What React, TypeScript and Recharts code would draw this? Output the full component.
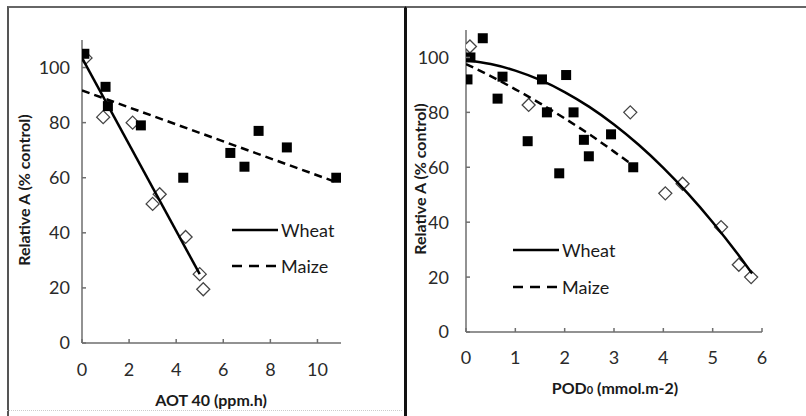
import React from 'react'
import { ScatterChart, Scatter, XAxis, YAxis } from 'recharts'

// Left panel: photosynthesis vs AOT40
const aotWheatX = [0.15, 0.9, 2.15, 3.0, 3.3, 4.4, 5.0, 5.15]
const aotWheatY = [103.5, 82, 80, 50.5, 54, 38.5, 25, 19.5]
const aotMaizeX = [0.1, 1.0, 1.1, 2.5, 4.3, 6.3, 6.9, 7.5, 8.7, 10.8]
const aotMaizeY = [105, 93, 86, 79, 60, 69, 64, 77, 71, 60]
const aotWheatFitX = [0, 5]
const aotWheatFitY = [103.5, 25]
const aotMaizeFitX = [0, 10.7]
const aotMaizeFitY = [91.7, 58.7]

// Right panel: photosynthesis vs POD0
const podWheatX = [0.08, 1.27, 3.33, 4.04, 4.39, 5.17, 5.53, 5.78]
const podWheatY = [104, 82.7, 80, 50.5, 54, 38.2, 24.5, 20]
const podMaizeX = [0.03, 0.09, 0.34, 0.64, 0.74, 1.25, 1.54, 1.64, 1.89, 2.03, 2.18, 2.39, 2.49, 2.94, 3.39]
const podMaizeY = [92, 100, 107, 85, 93, 69.5, 92, 80, 57.8, 93.6, 80, 70, 64, 72, 60]
const podWheatFitX = [0, 0.5, 1, 1.5, 2, 2.5, 3, 3.5, 4, 4.5, 5, 5.5, 5.8]
const podWheatFitY = [99, 97.6, 95.2, 91.8, 87.4, 82, 75.6, 68.2, 59.8, 50.4, 40, 28.6, 21.3]
const podMaizeFitX = [0, 0.5, 1, 1.5, 2, 2.5, 3, 3.4]
const podMaizeFitY = [97.6, 93.2, 88.4, 83.3, 77.8, 72, 65.7, 60.5]

const yTicks = [0, 20, 40, 60, 80, 100]
const aotTicks = [0, 2, 4, 6, 8, 10]
const podTicks = [0, 1, 2, 3, 4, 5, 6]

const zip = (xs: number[], ys: number[]) => xs.map((x, i) => ({ x, y: ys[i] }))

const FONT = 'Lato, "Open Sans", sans-serif'
const AXIS = '#6e6e6e'
const axisLine = { stroke: AXIS, strokeWidth: 1.5 }

const Square = (p: any) => <rect x={p.cx - 5} y={p.cy - 5} width={10} height={10} fill="#000" />
const Diamond = (p: any) => (
  <polygon
    points={`${p.cx},${p.cy - 6.5} ${p.cx + 6.5},${p.cy} ${p.cx},${p.cy + 6.5} ${p.cx - 6.5},${p.cy}`}
    fill="#fff"
    stroke="#444"
    strokeWidth={1.3}
  />
)
const NoDot = () => <g />

// ticks point inward, labels sit outside
const makeYTick = (axisX: number, gap: number) => (t: any) => (
  <g>
    <line x1={axisX} x2={axisX + 4} y1={t.y} y2={t.y} stroke={AXIS} strokeWidth={1.5} />
    <text x={axisX - gap} y={t.y} dy="0.36em" textAnchor="end" fill="#2a2a2a" fontSize={18} fontFamily={FONT}>
      {t.payload.value}
    </text>
  </g>
)
const makeXTick = (axisY: number, gap: number) => (t: any) => (
  <g>
    <line x1={t.x} x2={t.x} y1={axisY} y2={axisY - 4} stroke={AXIS} strokeWidth={1.5} />
    <text x={t.x} y={axisY + gap} dy="0.36em" textAnchor="middle" fill="#2a2a2a" fontSize={18} fontFamily={FONT}>
      {t.payload.value}
    </text>
  </g>
)

interface PanelProps {
  left: number
  margin: { top: number; right: number; left: number; bottom: number }
  yWidth: number
  xHeight: number
  xMax: number
  xTicks: number[]
  yGap: number
  xGap: number
  wheat: { x: number; y: number }[]
  maize: { x: number; y: number }[]
  wheatFit: { x: number; y: number }[]
  maizeFit: { x: number; y: number }[]
}

const H = 416

const Panel = (p: PanelProps) => (
  <div style={{ position: 'absolute', left: p.left, top: 0 }}>
    <ScatterChart width={403} height={H} margin={p.margin}>
      <XAxis
        type="number"
        dataKey="x"
        domain={[0, p.xMax]}
        ticks={p.xTicks}
        height={p.xHeight}
        tick={makeXTick(H - p.xHeight, p.xGap)}
        tickLine={false}
        axisLine={axisLine}
        allowDataOverflow
      />
      <YAxis
        type="number"
        dataKey="y"
        domain={[0, 110]}
        ticks={yTicks}
        width={p.yWidth}
        tick={makeYTick(p.yWidth, p.yGap)}
        tickLine={false}
        axisLine={axisLine}
        allowDataOverflow
      />
      <Scatter data={p.wheat} shape={Diamond} isAnimationActive={false} />
      <Scatter
        data={p.wheatFit}
        shape={NoDot}
        line={{ stroke: '#000', strokeWidth: 2.5 }}
        lineJointType="monotoneX"
        isAnimationActive={false}
      />
      <Scatter
        data={p.maizeFit}
        shape={NoDot}
        line={{ stroke: '#000', strokeWidth: 2.5, strokeDasharray: '8 5' }}
        lineJointType="monotoneX"
        isAnimationActive={false}
      />
      <Scatter data={p.maize} shape={Square} isAnimationActive={false} />
    </ScatterChart>
  </div>
)

const textBase: React.CSSProperties = {
  position: 'absolute',
  fontFamily: FONT,
  color: '#1a1a1a',
  whiteSpace: 'nowrap',
}

const AxisTitle = ({ x, y, rotate, children }: { x: number; y: number; rotate?: boolean; children: React.ReactNode }) => (
  <div
    style={{
      ...textBase,
      left: x,
      top: y,
      fontSize: 16,
      fontWeight: 700,
      transform: `translate(-50%, -50%)${rotate ? ' rotate(-90deg)' : ''}`,
    }}
  >
    {children}
  </div>
)

const LegendRow = ({ x, y, dashed, label }: { x: number; y: number; dashed?: boolean; label: string }) => (
  <div style={{ ...textBase, left: x, top: y - 12, height: 24, display: 'flex', alignItems: 'center', fontSize: 18 }}>
    <svg width={48} height={24}>
      <line x1={0} x2={46} y1={12} y2={12} stroke="#000" strokeWidth={2.5} strokeDasharray={dashed ? '10 7' : undefined} />
    </svg>
    <span style={{ marginLeft: 1 }}>{label}</span>
  </div>
)

const App = () => (
  <div style={{ position: 'absolute', left: 0, top: 0, width: 806, height: H, background: '#fff', overflow: 'hidden' }}>
    {/* panel frames */}
    <div style={{ position: 'absolute', left: 7, top: 6, width: 395, height: 410, borderLeft: '2px solid #555', borderTop: '2px solid #666', borderRight: '2px solid #111' }} />
    <div style={{ position: 'absolute', left: 7, top: 410, width: 395, borderTop: '1px dotted #ccc' }} />
    <div style={{ position: 'absolute', left: 405, top: 6, width: 401, height: 410, borderLeft: '2px solid #111', borderTop: '2px solid #666' }} />

    <Panel
      left={0}
      margin={{ top: 40, right: 62, left: 0, bottom: 0 }}
      yWidth={82}
      xHeight={73}
      xMax={11}
      xTicks={aotTicks}
      yGap={12}
      xGap={27}
      wheat={zip(aotWheatX, aotWheatY)}
      maize={zip(aotMaizeX, aotMaizeY)}
      wheatFit={zip(aotWheatFitX, aotWheatFitY)}
      maizeFit={zip(aotMaizeFitX, aotMaizeFitY)}
    />
    <Panel
      left={403}
      margin={{ top: 30, right: 44, left: 0, bottom: 0 }}
      yWidth={63}
      xHeight={84}
      xMax={6}
      xTicks={podTicks}
      yGap={17}
      xGap={26}
      wheat={zip(podWheatX, podWheatY)}
      maize={zip(podMaizeX, podMaizeY)}
      wheatFit={zip(podWheatFitX, podWheatFitY)}
      maizeFit={zip(podMaizeFitX, podMaizeFitY)}
    />

    <AxisTitle x={23} y={190} rotate>Relative A (% control)</AxisTitle>
    <AxisTitle x={211} y={399}>AOT 40 (ppm.h)</AxisTitle>
    <AxisTitle x={419} y={179} rotate>Relative A (% control)</AxisTitle>
    <AxisTitle x={615} y={387}>
      POD<span style={{ fontSize: 11 }}>0</span> (mmol.m-2)
    </AxisTitle>

    <LegendRow x={232} y={230} label="Wheat" />
    <LegendRow x={232} y={266} dashed label="Maize" />
    <LegendRow x={513} y={250} label="Wheat" />
    <LegendRow x={513} y={287} dashed label="Maize" />
  </div>
)

export default App
